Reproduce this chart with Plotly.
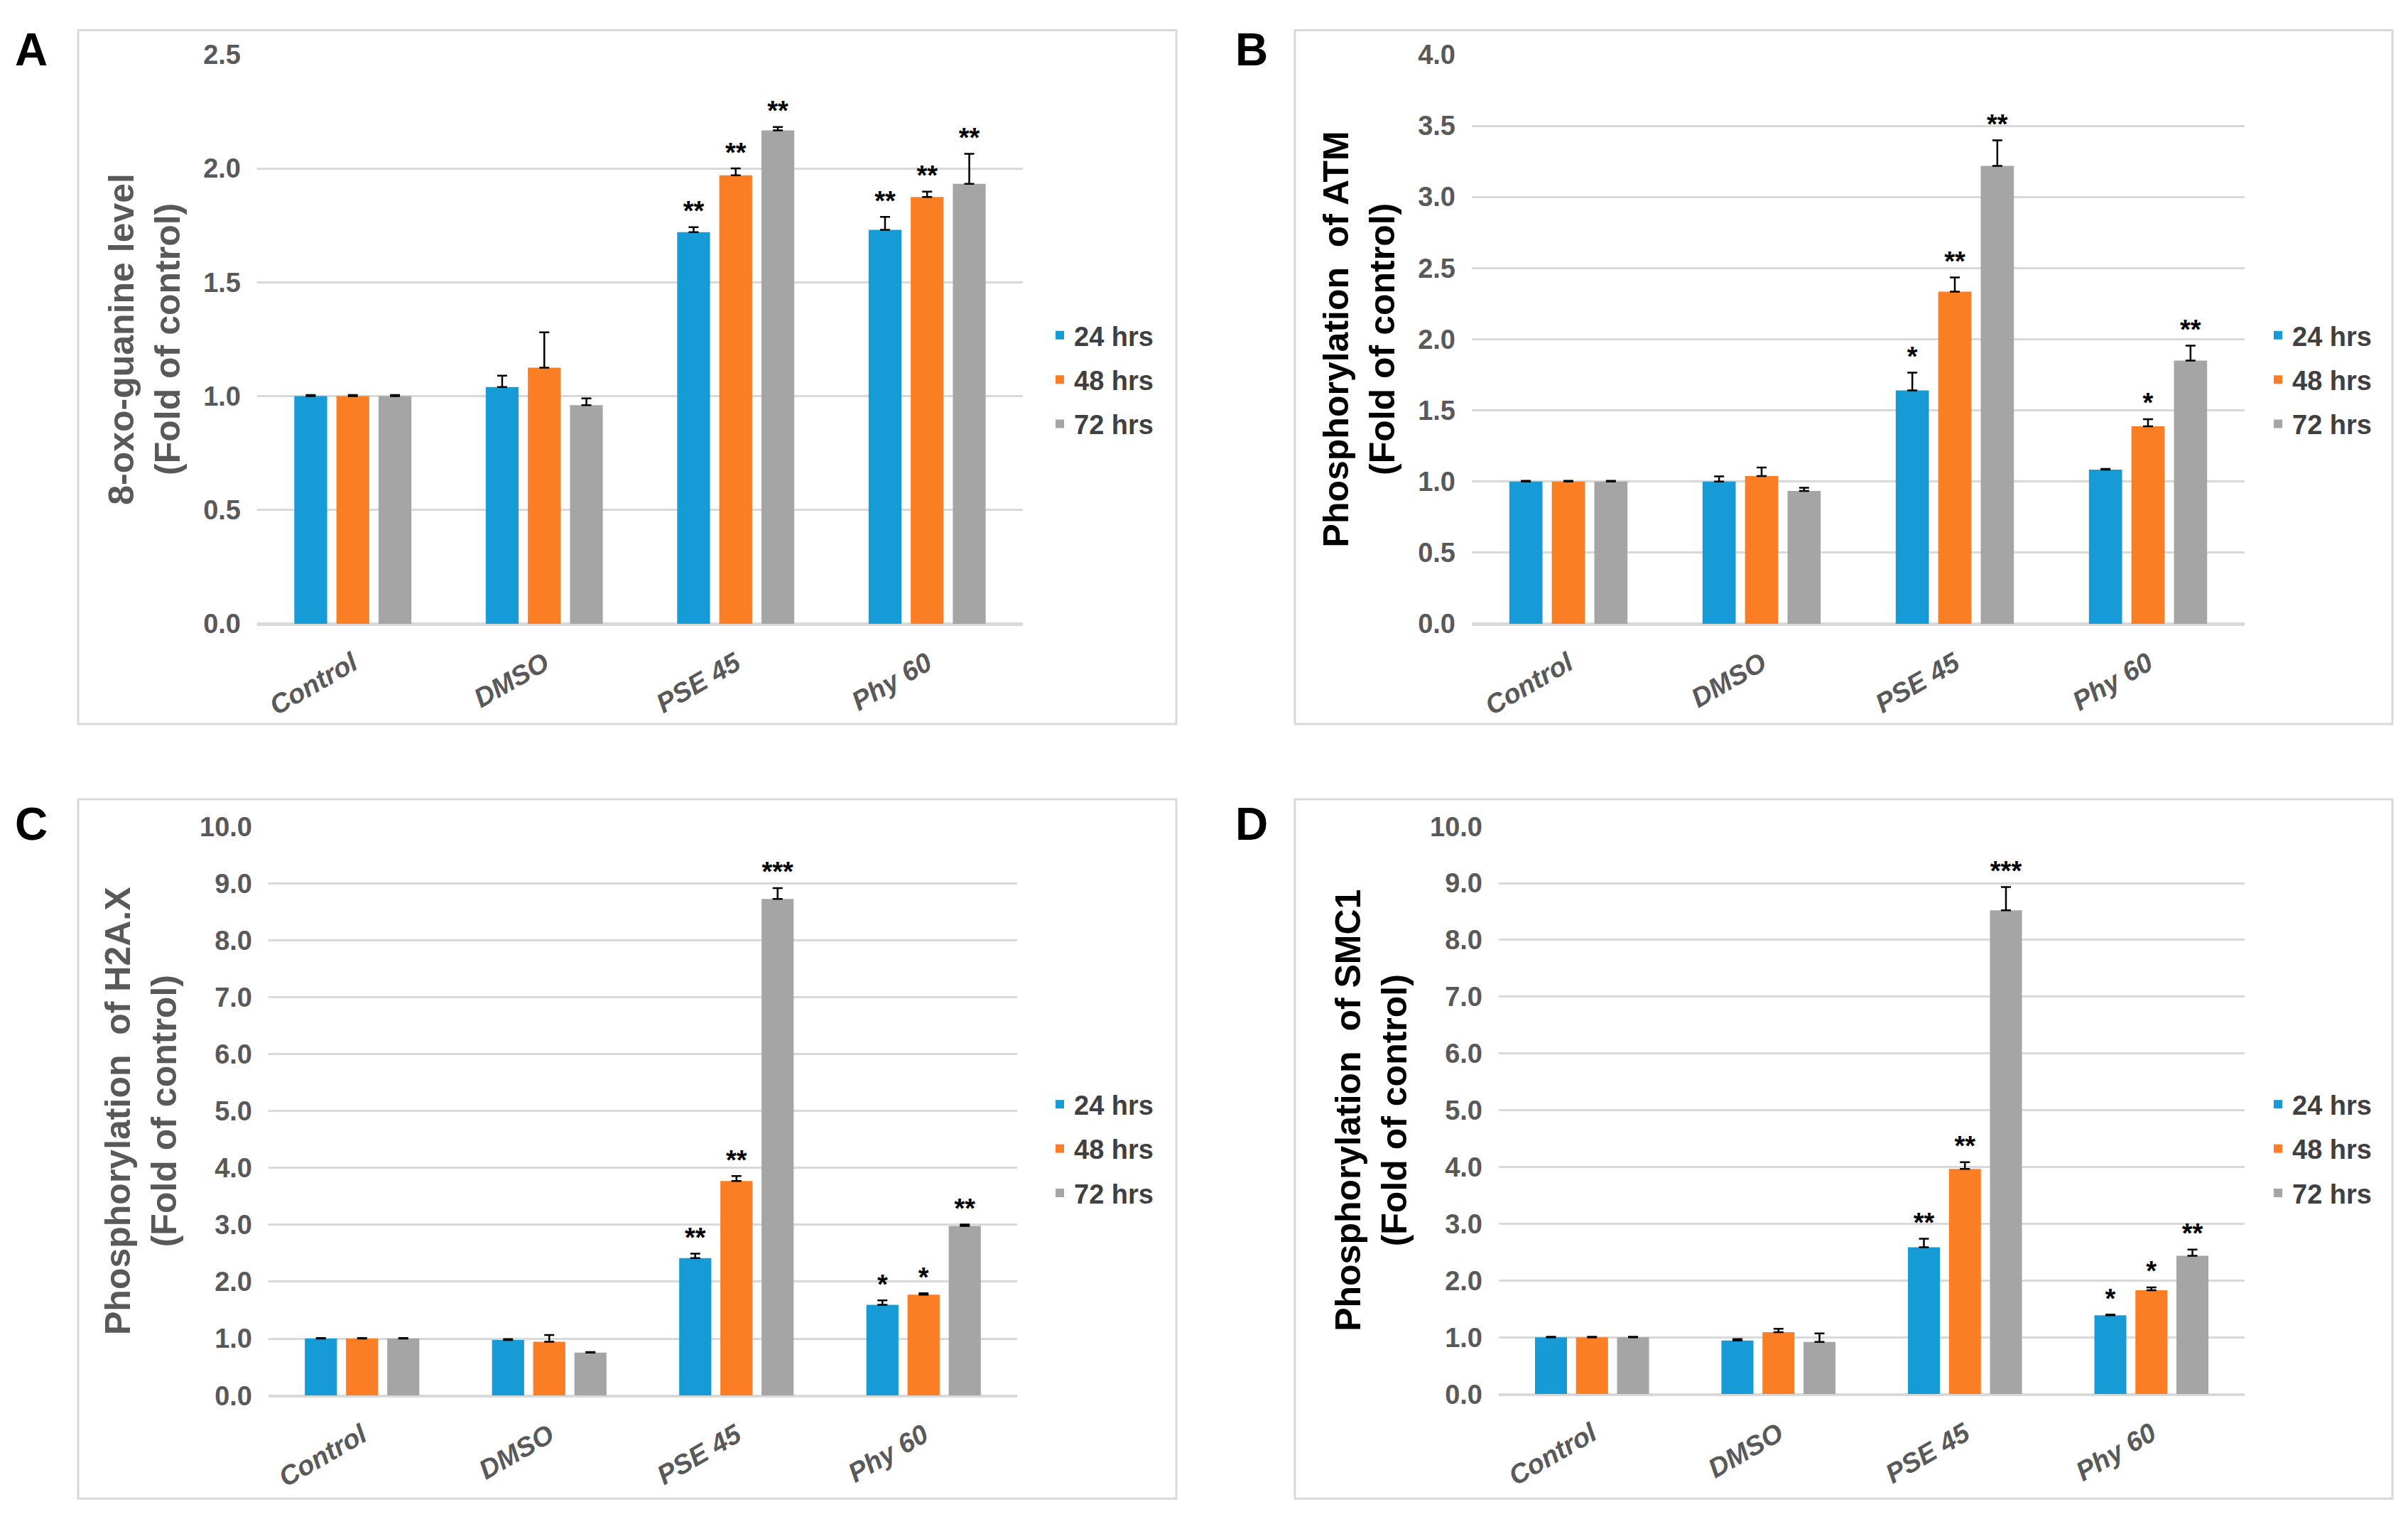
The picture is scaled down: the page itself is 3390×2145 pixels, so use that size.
import plotly.graph_objects as go

categories = ["Control", "DMSO", "PSE 45", "Phy 60"]
series_names = ["24 hrs", "48 hrs", "72 hrs"]
colors = ["#169BD7", "#FB7D24", "#A5A5A5"]

# Panel A: 8-oxo-guanine
a_24 = [1.00, 1.04, 1.72, 1.73]
a_48 = [1.00, 1.125, 1.97, 1.875]
a_72 = [1.00, 0.96, 2.167, 1.932]
a_24_err = [0.005, 0.05, 0.022, 0.057]
a_48_err = [0.005, 0.155, 0.03, 0.023]
a_72_err = [0.005, 0.03, 0.015, 0.132]
a_24_sig = ["", "", "**", "**"]
a_48_sig = ["", "", "**", "**"]
a_72_sig = ["", "", "**", "**"]

# Panel B: ATM
b_24 = [1.00, 1.00, 1.64, 1.083]
b_48 = [1.00, 1.038, 2.334, 1.388]
b_72 = [1.00, 0.933, 3.218, 1.849]
b_24_err = [0.005, 0.035, 0.125, 0.005]
b_48_err = [0.005, 0.06, 0.10, 0.05]
b_72_err = [0.005, 0.023, 0.18, 0.105]
b_24_sig = ["", "", "*", ""]
b_48_sig = ["", "", "**", "*"]
b_72_sig = ["", "", "**", "**"]

# Panel C: H2A.X
c_24 = [1.00, 0.977, 2.414, 1.593]
c_48 = [1.00, 0.944, 3.768, 1.773]
c_72 = [1.00, 0.755, 8.727, 2.98]
c_24_err = [0.01, 0.015, 0.08, 0.08]
c_48_err = [0.01, 0.12, 0.09, 0.025]
c_72_err = [0.01, 0.01, 0.19, 0.025]
c_24_sig = ["", "", "**", "*"]
c_48_sig = ["", "", "**", "*"]
c_72_sig = ["", "", "***", "**"]

# Panel D: SMC1
d_24 = [1.00, 0.944, 2.586, 1.388]
d_48 = [1.00, 1.092, 3.966, 1.831]
d_72 = [1.00, 0.92, 8.522, 2.438]
d_24_err = [0.01, 0.025, 0.15, 0.015]
d_48_err = [0.01, 0.06, 0.12, 0.05]
d_72_err = [0.01, 0.15, 0.41, 0.11]
d_24_sig = ["", "", "**", "*"]
d_48_sig = ["", "", "**", "*"]
d_72_sig = ["", "", "***", "**"]

W, H = 3390, 2145
FONT = "Liberation Sans, Arial, Helvetica, sans-serif"
NARROW = "Liberation Sans Narrow, Arial Narrow, Liberation Sans, Arial, sans-serif"
GRID = "#D9D9D9"
TICK_GREY = "#595959"

panels = [
    dict(key="", letter="A", vals=[a_24, a_48, a_72], errs=[a_24_err, a_48_err, a_72_err],
         sigs=[a_24_sig, a_48_sig, a_72_sig], rng=[0, 2.5], dtick=0.5,
         title="8-oxo-guanine level<br>(Fold of control)", tfont=NARROW,
         px=(362, 1440), py=(57, 874), frame=(110, 22, 1656, 1018), letterpos=(44, 50),
         legpos=(1472, 428), legend="legend", titlecolor=TICK_GREY),
    dict(key="2", letter="B", vals=[b_24, b_48, b_72], errs=[b_24_err, b_48_err, b_72_err],
         sigs=[b_24_sig, b_48_sig, b_72_sig], rng=[0, 4.0], dtick=0.5,
         title="Phosphorylation  of ATM<br>(Fold of control)", tfont=FONT,
         px=(2072, 3160), py=(57, 874), frame=(1823, 22, 3368, 1018), letterpos=(1762, 50),
         legpos=(3187, 428), legend="legend2", titlecolor="#000000"),
    dict(key="3", letter="C", vals=[c_24, c_48, c_72], errs=[c_24_err, c_48_err, c_72_err],
         sigs=[c_24_sig, c_48_sig, c_72_sig], rng=[0, 10.0], dtick=1,
         title="Phosphorylation  of H2A.X<br>(Fold of control)", tfont=NARROW,
         px=(378, 1432), py=(1165, 1982), frame=(110, 1126, 1656, 2130), letterpos=(44, 1162),
         legpos=(1472, 1532), legend="legend3", titlecolor=TICK_GREY),
    dict(key="4", letter="D", vals=[d_24, d_48, d_72], errs=[d_24_err, d_48_err, d_72_err],
         sigs=[d_24_sig, d_48_sig, d_72_sig], rng=[0, 10.0], dtick=1,
         title="Phosphorylation  of SMC1<br>(Fold of control)", tfont=FONT,
         px=(2110, 3160), py=(1165, 1980), frame=(1823, 1126, 3368, 2130), letterpos=(1762, 1162),
         legpos=(3187, 1532), legend="legend4", titlecolor="#000000"),
]

fig = go.Figure()
layout = dict(width=W, height=H, margin=dict(l=0, r=0, t=0, b=0),
              paper_bgcolor="white", plot_bgcolor="white",
              barmode="group", bargap=0.34, bargroupgap=0.22,
              scattermode="group", scattergap=0.34,
              shapes=[], annotations=[])

for p in panels:
    k = p["key"]
    xa, ya = "x" + k, "y" + k
    for i in range(3):
        fig.add_trace(go.Bar(
            x=categories, y=p["vals"][i], name=series_names[i],
            marker=dict(color=colors[i], line=dict(width=0)),
            error_y=dict(type="data", array=p["errs"][i], arrayminus=[0] * 4,
                         symmetric=False, color="#000000", thickness=2.5, width=7),
            xaxis=xa, yaxis=ya, legend=p["legend"], legendgroup=p["legend"] + str(i),
            offsetgroup=str(i),
        ))
    for i in range(3):
        tops = [v + e for v, e in zip(p["vals"][i], p["errs"][i])]
        fig.add_trace(go.Scatter(
            x=categories, y=tops, mode="text", text=p["sigs"][i],
            textposition="top center",
            textfont=dict(family=FONT, size=38, color="#000000", weight="bold"),
            xaxis=xa, yaxis=ya, showlegend=False, offsetgroup=str(i),
            hoverinfo="skip", cliponaxis=False,
        ))
    x0, x1 = p["px"]
    y0, y1 = p["py"]
    xname = "xaxis" + k
    yname = "yaxis" + k
    layout[xname] = dict(
        domain=[x0 / W, x1 / W], anchor=ya, type="category",
        showgrid=False, showline=True, linecolor=GRID, linewidth=3,
        ticks="", tickangle=-30, ticklabelstandoff=16,
        tickfont=dict(family=p["tfont"], size=38, color=TICK_GREY, weight="bold", style="italic"),
        fixedrange=True,
    )
    layout[yname] = dict(
        domain=[1 - y1 / H, 1 - y0 / H], anchor=xa, range=p["rng"], dtick=p["dtick"],
        tickformat=".1f", showgrid=True, gridcolor=GRID, gridwidth=3,
        zeroline=True, zerolinecolor=GRID, zerolinewidth=3, showline=False,
        ticks="", ticklabelstandoff=22,
        tickfont=dict(family=p["tfont"], size=38, color=TICK_GREY, weight="bold"),
        title=dict(text=p["title"], standoff=16,
                   font=dict(family=FONT, size=50, color=p["titlecolor"], weight="bold")),
        fixedrange=True,
    )
    lx, ly = p["legpos"]
    layout[p["legend"]] = dict(
        x=lx / W, y=1 - ly / H, xanchor="left", yanchor="top",
        font=dict(family=NARROW, size=38, color="#404040", weight="bold"),
        bgcolor="rgba(0,0,0,0)", traceorder="grouped", tracegroupgap=10,
        itemwidth=30,
    )
    fx0, fy0, fx1, fy1 = p["frame"]
    layout["shapes"].append(dict(
        type="rect", xref="paper", yref="paper", x0=fx0 / W, x1=fx1 / W,
        y0=1 - fy1 / H, y1=1 - fy0 / H, line=dict(color=GRID, width=3),
        fillcolor="rgba(0,0,0,0)", layer="below"))
    lpx, lpy = p["letterpos"]
    layout["annotations"].append(dict(
        text=p["letter"], xref="paper", yref="paper", x=lpx / W, y=1 - lpy / H,
        xanchor="center", yanchor="middle", showarrow=False,
        font=dict(family=FONT, size=64, color="#000000", weight="bold")))

fig.update_layout(**layout)
fig.write_html("out.html", config={"displayModeBar": False},
               post_script="document.body.style.margin='0px';")
